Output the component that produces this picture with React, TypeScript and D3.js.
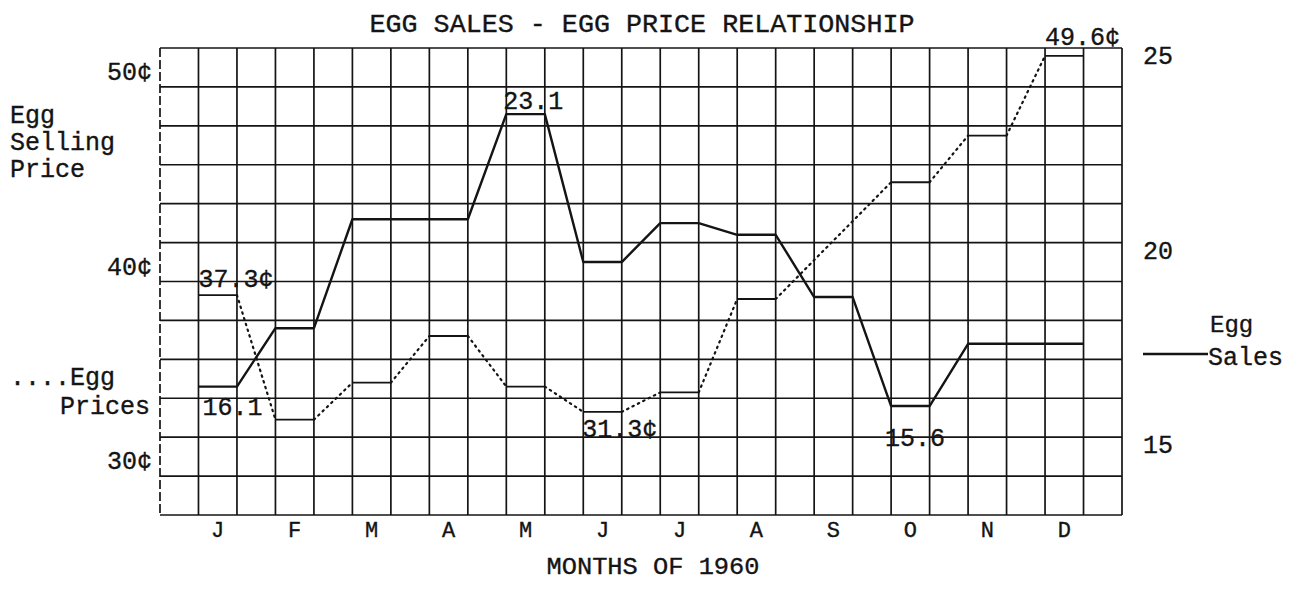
import React from 'react';
import * as d3 from 'd3';

// monthly values
const months = ['J', 'F', 'M', 'A', 'M', 'J', 'J', 'A', 'S', 'O', 'N', 'D'];
const eggPrices: (number | null)[] = [37.3, 30.9, 32.8, 35.2, 32.6, 31.3, 32.3, 37.1, null, 43.1, 45.5, 49.6];
const eggSales = [16.1, 17.6, 20.4, 20.4, 23.1, 19.3, 20.3, 20.0, 18.4, 15.6, 17.2, 17.2];
const priceTicks = [50, 40, 30];
const salesTicks = [25, 20, 15];
const callouts = [
  { series: 'price', month: 0, text: '37.3¢' },
  { series: 'sales', month: 0, text: '16.1' },
  { series: 'sales', month: 4, text: '23.1' },
  { series: 'price', month: 5, text: '31.3¢' },
  { series: 'sales', month: 9, text: '15.6' },
  { series: 'price', month: 11, text: '49.6¢' },
];

const W = 1298;
const H = 590;
const left = 160, right = 1122, top = 48, bottom = 515;
const cols = 25, rows = 12;
const ink = '#141414';
const mono = '"Liberation Mono", "Courier New", monospace';

// nudges for the typed value notes: [dx, dy] from the start of the month segment
const calloutNudge: Record<string, [number, number]> = {
  '37.3¢': [0, -8],
  '16.1': [4, 28],
  '23.1': [-3, -5],
  '31.3¢': [-1, 25],
  '15.6': [-6, 40],
  '49.6¢': [0, -11],
};

const App = () => {
  const xGrid = d3.scaleLinear().domain([0, cols]).range([left, right]);
  const yGrid = d3.scaleLinear().domain([0, rows]).range([top, bottom]);
  // 2 cents per row on the left, 1 unit per row on the right
  const yPrice = d3.scaleLinear().domain([50, 26]).range([top, bottom]);
  const ySales = d3.scaleLinear().domain([24.8, 12.8]).range([top, bottom]);

  const monthX0 = (i: number) => xGrid(2 * i + 1);
  const monthX1 = (i: number) => xGrid(2 * i + 2);

  const line = d3.line<[number, number]>();

  // sales: one solid stepped path
  const salesPts: [number, number][] = [];
  eggSales.forEach((v, i) => {
    salesPts.push([monthX0(i), ySales(v)]);
    salesPts.push([monthX1(i), ySales(v)]);
  });

  // prices: solid month steps, dotted links between them
  const priceSteps: [number, number][][] = [];
  eggPrices.forEach((v, i) => {
    if (v == null) return;
    priceSteps.push([[monthX0(i), yPrice(v)], [monthX1(i), yPrice(v)]]);
  });
  const priceLinks = priceSteps.slice(1).map((s, k) => [priceSteps[k][1], s[0]] as [number, number][]);

  return (
    <svg width={W} height={H} style={{ position: 'absolute', left: 0, top: 0, background: '#fff' }}>
      <rect width={W} height={H} fill="#fff" />

      {/* grid */}
      <g stroke={ink} strokeWidth={1.7}>
        {d3.range(rows + 1).map((r) => (
          <line key={'r' + r} x1={left} x2={right} y1={yGrid(r)} y2={yGrid(r)} />
        ))}
        {d3.range(cols + 1).map((c) => (
          <line key={'c' + c} x1={xGrid(c)} x2={xGrid(c)} y1={top} y2={bottom}
            strokeDasharray={c === 0 ? '9,3' : undefined} />
        ))}
      </g>

      {/* egg prices */}
      <g fill="none" stroke={ink}>
        {priceSteps.map((s, k) => (
          <path key={'ps' + k} d={line(s) ?? ''} strokeWidth={1.8} />
        ))}
        {priceLinks.map((s, k) => (
          <path key={'pl' + k} d={line(s) ?? ''} strokeWidth={2.2} strokeDasharray="1.5,4.5" strokeLinecap="round" />
        ))}
      </g>

      {/* egg sales */}
      <path d={line(salesPts) ?? ''} fill="none" stroke={ink} strokeWidth={2.4} strokeLinejoin="round" />

      <g fontFamily={mono} fill={ink} stroke={ink} strokeWidth={0.35}>
        {callouts.map((c) => {
          const v = c.series === 'price' ? eggPrices[c.month] : eggSales[c.month];
          const y = c.series === 'price' ? yPrice(v as number) : ySales(v as number);
          const [dx, dy] = calloutNudge[c.text] ?? [0, 0];
          return (
            <text key={c.text} x={monthX0(c.month) + dx} y={y + dy} fontSize={25}>{c.text}</text>
          );
        })}

        {/* title */}
        <text x={642} y={32} fontSize={25} textAnchor="middle" textLength={545} lengthAdjust="spacingAndGlyphs">
          EGG SALES - EGG PRICE RELATIONSHIP
        </text>

        {/* left axis */}
        {priceTicks.map((t) => (
          <text key={'pt' + t} x={152} y={yPrice(t) + 32} fontSize={25} textAnchor="end">{t}¢</text>
        ))}
        <text x={10} fontSize={25}>
          <tspan x={10} y={123}>Egg</tspan>
          <tspan x={10} y={150}>Selling</tspan>
          <tspan x={10} y={177}>Price</tspan>
        </text>
        <text x={10} y={385} fontSize={25}>....Egg</text>
        <text x={150} y={414} fontSize={25} textAnchor="end">Prices</text>

        {/* right axis */}
        {salesTicks.map((t) => (
          <text key={'st' + t} x={1143} y={ySales(t) + 24} fontSize={25}>{t}</text>
        ))}
        <text x={1210} y={332} fontSize={24}>Egg</text>
        <text x={1208} y={365} fontSize={25}>Sales</text>

        {/* months */}
        {months.map((m, i) => (
          <text key={'m' + i} x={(monthX0(i) + monthX1(i)) / 2} y={537} fontSize={22} textAnchor="middle">{m}</text>
        ))}
        <text x={653} y={574} fontSize={24} textAnchor="middle" textLength={213} lengthAdjust="spacingAndGlyphs">
          MONTHS OF 1960
        </text>
      </g>
      <line x1={1143} x2={1208} y1={354} y2={354} stroke={ink} strokeWidth={2.5} />
    </svg>
  );
};

export default App;
